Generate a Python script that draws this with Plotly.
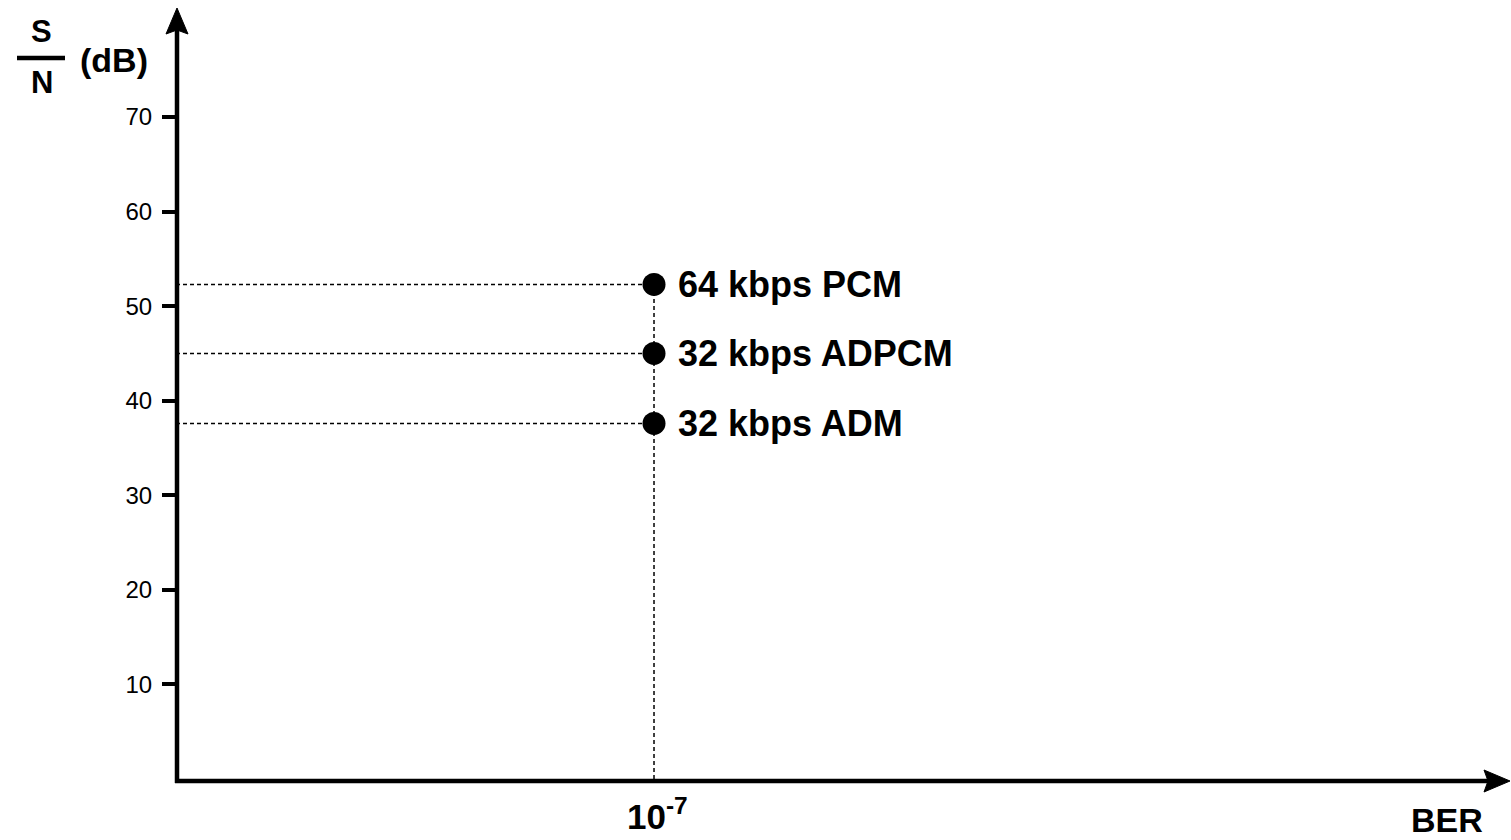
import plotly.graph_objects as go

# Speech codec quality at a fixed bit error rate
codecs = ["64 kbps PCM", "32 kbps ADPCM", "32 kbps ADM"]
snr_db = [52.3, 45.0, 37.6]
ber_value = 1e-7
ber_label = "10<sup>-7</sup>"

y_ticks = [10, 20, 30, 40, 50, 60, 70]

# Page geometry
W, H = 1511, 840
ML, MR, MT, MB = 176, 16, 30, 61
PW, PH = W - ML - MR, H - MT - MB

FONT = "Liberation Sans, Arial, Helvetica, sans-serif"
X_RANGE = [-10, -1.722]   # log10 of BER
Y_RANGE = [0, 79.2]


def px_x(p):
    return (p - ML) / PW


def px_y(p):
    return (H - MB - p) / PH


fig = go.Figure()

x_left = 10 ** X_RANGE[0]
dash_style = dict(color="black", width=1.5, dash="4px,3px")

# Horizontal guide lines from the S/N axis to each point
for v in snr_db:
    fig.add_trace(go.Scatter(x=[x_left, ber_value], y=[v, v], mode="lines",
                             line=dash_style, hoverinfo="skip", showlegend=False))

# Vertical guide line from the BER axis up to the highest point
fig.add_trace(go.Scatter(x=[ber_value, ber_value], y=[0, max(snr_db)], mode="lines",
                         line=dash_style, hoverinfo="skip", showlegend=False))

# Codec points
fig.add_trace(go.Scatter(x=[ber_value] * len(snr_db), y=snr_db, mode="markers",
                         marker=dict(size=23, color="black"),
                         text=codecs, hoverinfo="text", showlegend=False))

annotations = []
for name, v in zip(codecs, snr_db):
    annotations.append(dict(x=-7, y=v, xref="x", yref="y", text=name,
                            showarrow=False, xanchor="left", yanchor="middle",
                            xshift=22,
                            font=dict(family=FONT, size=36, color="black", weight="bold")))

# BER value under the axis
annotations.append(dict(x=-7, y=px_y(814), xref="x", yref="paper", text=ber_label,
                        showarrow=False, xanchor="center", yanchor="middle", xshift=3,
                        font=dict(family=FONT, size=35, color="black", weight="bold")))

# Axis titles
annotations.append(dict(x=px_x(1447), y=px_y(820), xref="paper", yref="paper", text="BER",
                        showarrow=False, xanchor="center", yanchor="middle",
                        font=dict(family=FONT, size=34, color="black", weight="bold")))
annotations.append(dict(x=px_x(41), y=px_y(31), xref="paper", yref="paper", text="S",
                        showarrow=False, xanchor="center", yanchor="middle",
                        font=dict(family=FONT, size=31, color="black", weight="bold")))
annotations.append(dict(x=px_x(42), y=px_y(83), xref="paper", yref="paper", text="N",
                        showarrow=False, xanchor="center", yanchor="middle",
                        font=dict(family=FONT, size=31, color="black", weight="bold")))
annotations.append(dict(x=px_x(114), y=px_y(60), xref="paper", yref="paper", text="(dB)",
                        showarrow=False, xanchor="center", yanchor="middle",
                        font=dict(family=FONT, size=34, color="black", weight="bold")))


def tri(points):
    return "M " + " L ".join(f"{px_x(a)},{px_y(b)}" for a, b in points) + " Z"


axis_line = dict(color="black", width=4.5)
shapes = [
    # fraction bar of S/N
    dict(type="line", xref="paper", yref="paper",
         x0=px_x(17), x1=px_x(65), y0=px_y(58), y1=px_y(58),
         line=dict(color="black", width=4.5)),
    # vertical axis with arrow head
    dict(type="line", xref="paper", yref="paper",
         x0=px_x(177), x1=px_x(177), y0=px_y(783), y1=px_y(28), line=axis_line),
    dict(type="path", xref="paper", yref="paper",
         path=tri([(177, 8), (188, 34), (177, 30), (166, 34)]),
         fillcolor="black", line=dict(color="black", width=1)),
    # horizontal axis with arrow head
    dict(type="line", xref="paper", yref="paper",
         x0=px_x(175), x1=px_x(1492), y0=px_y(781), y1=px_y(781), line=axis_line),
    dict(type="path", xref="paper", yref="paper",
         path=tri([(1510, 781), (1484, 770), (1488, 781), (1484, 792)]),
         fillcolor="black", line=dict(color="black", width=1)),
]

fig.update_layout(
    width=W, height=H,
    margin=dict(l=ML, r=MR, t=MT, b=MB, autoexpand=False),
    paper_bgcolor="white", plot_bgcolor="white",
    annotations=annotations, shapes=shapes,
    xaxis=dict(type="log", range=X_RANGE, showgrid=False, zeroline=False, showline=False,
               showticklabels=False, ticks="", automargin=False),
    yaxis=dict(range=Y_RANGE, showgrid=False, zeroline=False, showline=False,
               tickvals=y_ticks, ticks="outside", ticklen=13, tickwidth=3.5,
               tickcolor="black", ticklabelstandoff=5, automargin=False,
               tickfont=dict(family=FONT, size=24, color="black")),
)

fig.write_html("out.html")
